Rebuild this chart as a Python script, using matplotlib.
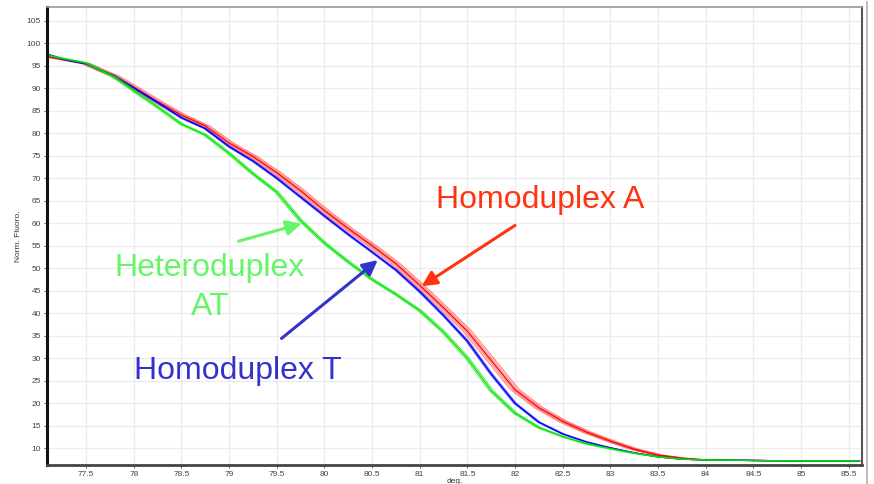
import numpy as np
import matplotlib
matplotlib.use("Agg")
import matplotlib.pyplot as plt
from matplotlib.lines import Line2D
from matplotlib.ticker import FormatStrFormatter, MultipleLocator

plt.rcParams['font.family'] = ['Liberation Sans', 'DejaVu Sans']

# melt temperature (deg.)
temps = [77.09, 77.3, 77.5, 77.65, 77.8, 78.0, 78.25, 78.5, 78.75, 79.0,
         79.25, 79.5, 79.75, 80.0, 80.25, 80.5, 80.75, 81.0, 81.25, 81.5,
         81.75, 82.0, 82.25, 82.5, 82.75, 83.0, 83.25, 83.5, 83.75, 84.0,
         84.5, 85.0, 85.6]

# normalised fluorescence per group
homo_a = [97.0, 96.2, 95.4, 94.0, 92.7, 90.2, 87.0, 84.0, 81.6, 77.8,
          74.8, 71.2, 67.2, 62.8, 58.8, 55.0, 51.0, 46.2, 41.2, 36.0,
          29.5, 23.0, 19.0, 16.0, 13.6, 11.6, 9.8, 8.5, 7.8, 7.4,
          7.3, 7.2, 7.2]
homo_t = [97.5, 96.2, 95.4, 94.0, 92.6, 90.0, 86.8, 83.4, 81.0, 77.0,
          73.8, 70.0, 65.8, 61.6, 57.5, 53.6, 49.6, 44.8, 39.5, 33.8,
          26.5, 20.0, 15.8, 13.2, 11.4, 10.1, 9.0, 8.1, 7.6, 7.4,
          7.3, 7.2, 7.2]
hetero_at = [97.3, 96.4, 95.6, 94.0, 92.4, 89.4, 85.8, 82.0, 79.6, 75.5,
             71.0, 66.9, 60.6, 55.6, 51.4, 47.5, 44.2, 40.6, 35.8, 30.0,
             22.8, 17.8, 14.6, 12.6, 11.0, 9.9, 8.9, 8.1, 7.6, 7.4,
             7.3, 7.2, 7.2]

# replicate wells: small temperature shifts
shifts_a = [-0.045, -0.02, 0.0, 0.02, 0.045]
shifts_t = [-0.012, 0.0, 0.012]
shifts_at = [-0.02, 0.0, 0.02]

fig = plt.figure(figsize=(8.74, 4.84), dpi=100)
ax = fig.add_axes([0.0538, 0.0393, 0.9325, 0.9462])

t = np.array(temps)
for dx in shifts_a:
    ax.plot(t + dx, homo_a, color='#ff0000', lw=0.9, alpha=1.0 if dx == 0 else 0.45)
for dx in shifts_t:
    ax.plot(t + dx, homo_t, color='#0000ff', lw=0.9, alpha=1.0 if dx == 0 else 0.6)
for dx in shifts_at:
    ax.plot(t + dx, hetero_at, color='#00e600', lw=0.9, alpha=1.0 if dx == 0 else 0.6)

ax.set_xlim(77.09, 85.64)
ax.set_ylim(6.3, 108)
ax.xaxis.set_major_locator(MultipleLocator(0.5))
ax.set_yticks(np.arange(10, 106, 5))
ax.xaxis.set_major_formatter(FormatStrFormatter('%g'))
ax.grid(True, color='#ececec', lw=1)
ax.set_axisbelow(True)
ax.tick_params(labelsize=6, colors='#444444', length=2.5, width=0.6, pad=2)
ax.set_xlabel('deg.', fontsize=6, color='#333333', labelpad=0)
ax.set_ylabel('Norm. Fluoro.', fontsize=6, color='#333333', labelpad=3)

ax.spines['left'].set_color('#111111')
ax.spines['left'].set_linewidth(2.2)
ax.spines['bottom'].set_color('#444444')
ax.spines['bottom'].set_linewidth(2)
ax.spines['top'].set_color('#999999')
ax.spines['top'].set_linewidth(1.2)
ax.spines['right'].set_color('#555555')
ax.spines['right'].set_linewidth(1.5)

fig.add_artist(Line2D([0.992, 0.992], [0.0, 0.995], color='#b0b0b0', lw=1.2))

# annotations
red_txt = '#ff3311'
blue_txt = '#3333cc'
green_txt = '#66f566'

ax.text(82.26, 63.3, 'Homoduplex A', color=red_txt, fontsize=23,
        ha='center', va='baseline')
ax.annotate('', xy=(81.02, 46.0), xytext=(82.0, 59.5),
            arrowprops=dict(arrowstyle='-|>,head_length=0.9,head_width=0.45',
                            color=red_txt, lw=2.2, shrinkA=0, shrinkB=0))

ax.text(79.09, 25.4, 'Homoduplex T', color=blue_txt, fontsize=23,
        ha='center', va='baseline')
ax.annotate('', xy=(80.56, 51.8), xytext=(79.55, 34.4),
            arrowprops=dict(arrowstyle='-|>,head_length=0.9,head_width=0.45',
                            color=blue_txt, lw=2.2, shrinkA=0, shrinkB=0))

ax.text(78.79, 48.2, 'Heteroduplex', color=green_txt, fontsize=23,
        ha='center', va='baseline')
ax.text(78.80, 39.7, 'AT', color=green_txt, fontsize=23,
        ha='center', va='baseline')
ax.annotate('', xy=(79.76, 59.9), xytext=(79.10, 56.0),
            arrowprops=dict(arrowstyle='-|>,head_length=0.9,head_width=0.45',
                            color=green_txt, lw=2.2, shrinkA=0, shrinkB=0))

fig.savefig('out.png', dpi=100)
